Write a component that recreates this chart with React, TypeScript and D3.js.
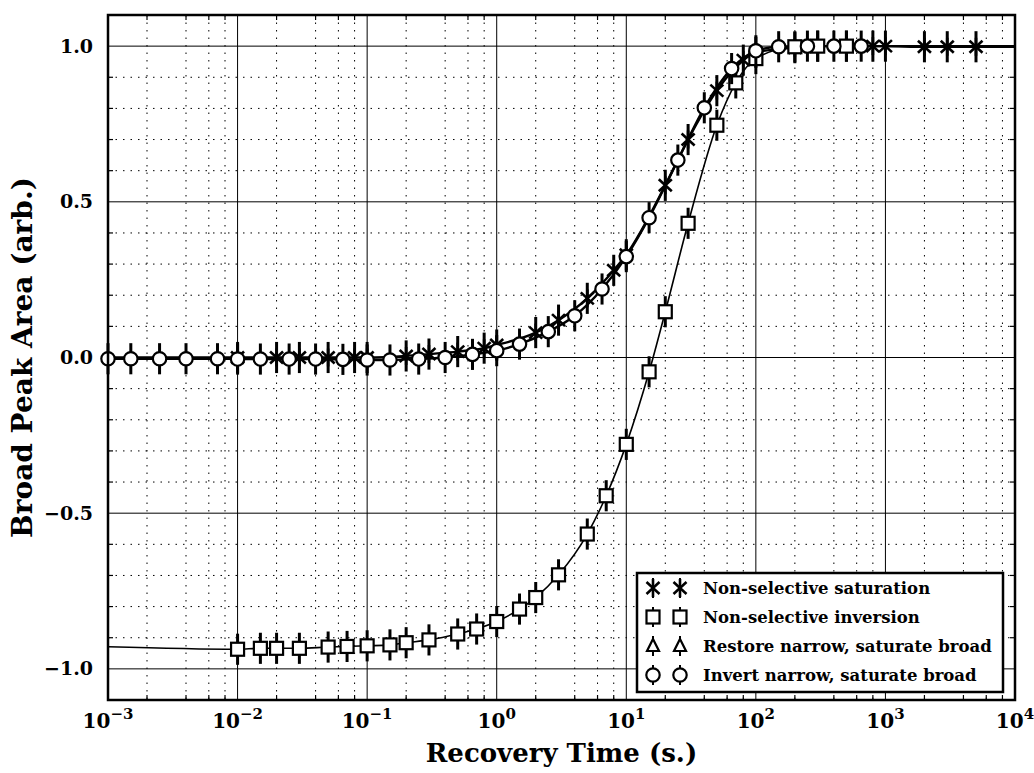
import React from 'react';
import * as d3 from 'd3';

const W = 1034;
const H = 773;
const PL = 108, PR = 1015, PT = 15, PB = 700;

// Non-selective saturation (asterisks)
const satX = [0.01, 0.02, 0.03, 0.05, 0.08, 0.1, 0.2, 0.3, 0.5, 0.8, 1, 2, 3, 5, 8, 10, 20, 30, 50, 80, 100, 200, 300, 500, 800, 1000, 2000, 3000, 5000];
const satY = [0.0, 0.0, 0.0, 0.0, 0.0, 0.0, 0.005, 0.011, 0.019, 0.03, 0.04, 0.08, 0.12, 0.19, 0.28, 0.33, 0.553, 0.7, 0.857, 0.955, 0.98, 0.995, 1.0, 1.0, 1.0, 1.0, 0.998, 0.998, 0.998];

// Non-selective inversion (squares)
const invX = [0.01, 0.015, 0.02, 0.03, 0.05, 0.07, 0.1, 0.15, 0.2, 0.3, 0.5, 0.7, 1, 1.5, 2, 3, 5, 7, 10, 15, 20, 30, 50, 70, 100, 200, 300, 500];
const invY = [-0.937, -0.934, -0.934, -0.934, -0.93, -0.928, -0.926, -0.923, -0.916, -0.907, -0.888, -0.872, -0.848, -0.808, -0.771, -0.698, -0.567, -0.444, -0.279, -0.046, 0.147, 0.431, 0.746, 0.882, 0.96, 0.998, 1.0, 1.0];
const invFitLeft = -0.929;

// Restore narrow, saturate broad (triangles) - hidden under the other markers
const restX: number[] = [];
const restY: number[] = [];

// Invert narrow, saturate broad (circles)
const circX = [0.001, 0.0015, 0.0025, 0.004, 0.007, 0.01, 0.015, 0.025, 0.04, 0.065, 0.1, 0.15, 0.25, 0.4, 0.65, 1, 1.5, 2.5, 4, 6.5, 10, 15, 25, 40, 65, 100, 150, 250, 400, 650];
const circY = [-0.004, -0.004, -0.004, -0.004, -0.004, -0.005, -0.005, -0.005, -0.005, -0.006, -0.008, -0.008, -0.005, 0.0, 0.01, 0.022, 0.043, 0.083, 0.134, 0.22, 0.324, 0.449, 0.634, 0.802, 0.928, 0.985, 0.998, 1.0, 1.0, 1.0];

const errHalf = 0.05;

const xExps = [-3, -2, -1, 0, 1, 2, 3, 4];
const yTicks = [-1, -0.5, 0, 0.5, 1];
const yTickLabels = ['\u22121.0', '\u22120.5', '0.0', '0.5', '1.0'];
const legendLabels = ['Non-selective saturation', 'Non-selective inversion', 'Restore narrow, saturate broad', 'Invert narrow, saturate broad'];

const FONT = '"DejaVu Serif", serif';

const x = d3.scaleLog().domain([1e-3, 1e4]).range([PL, PR]);
const y = d3.scaleLinear().domain([-1.1, 1.1]).range([PB, PT]);

function Asterisk({ cx, cy }: { cx: number; cy: number }) {
  const h = 9, w = 6.5, dh = 6;
  return (
    <g stroke="#000" strokeWidth={2.6} strokeLinecap="butt">
      <line x1={cx} y1={cy - h} x2={cx} y2={cy + h} />
      <line x1={cx - w} y1={cy - dh} x2={cx + w} y2={cy + dh} />
      <line x1={cx - w} y1={cy + dh} x2={cx + w} y2={cy - dh} />
    </g>
  );
}
function Square({ cx, cy }: { cx: number; cy: number }) {
  return <rect x={cx - 6.5} y={cy - 6.5} width={13} height={13} fill="#fff" stroke="#000" strokeWidth={2.2} />;
}
function Circle({ cx, cy }: { cx: number; cy: number }) {
  return <circle cx={cx} cy={cy} r={6.7} fill="#fff" stroke="#000" strokeWidth={2.2} />;
}
function Triangle({ cx, cy }: { cx: number; cy: number }) {
  return <path d={`M${cx},${cy - 7}L${cx + 6},${cy + 5}L${cx - 6},${cy + 5}Z`} fill="#fff" stroke="#000" strokeWidth={2.2} />;
}

function ErrBar({ cx, v }: { cx: number; v: number }) {
  return <line x1={cx} x2={cx} y1={y(v + errHalf)} y2={y(v - errHalf)} stroke="#000" strokeWidth={3} />;
}

export default function App() {
  const minorX: number[] = [];
  for (let e = -3; e < 4; e++) for (const m of [2, 4, 6, 8]) minorX.push(m * Math.pow(10, e));
  const minorY: number[] = [];
  for (let i = -10; i <= 10; i++) if (i % 5 !== 0) minorY.push(i / 10);

  const lineGen = d3.line<[number, number]>().x(d => x(d[0])).y(d => y(d[1])).curve(d3.curveMonotoneX);
  const satPts: [number, number][] = [[1e-3, satY[0]], ...satX.map((v, i) => [v, satY[i]] as [number, number]), [1e4, satY[satY.length - 1]]];
  const invPts: [number, number][] = [[1e-3, invFitLeft], ...invX.map((v, i) => [v, invY[i]] as [number, number]), [1e4, invY[invY.length - 1]]];
  const circPts: [number, number][] = [...circX.map((v, i) => [v, circY[i]] as [number, number]), [1e4, circY[circY.length - 1]]];

  const legendX = 637, legendY = 573, legendW = 366, legendH = 119;
  const rowY = [588, 617, 646, 675];
  const markers = [Asterisk, Square, Triangle, Circle];

  return (
    <svg width={W} height={H} style={{ position: 'absolute', left: 0, top: 0, background: '#fff' }} fontFamily={FONT}>
      <rect x={0} y={0} width={W} height={H} fill="#fff" />
      {/* minor grid */}
      <g stroke="#000" strokeWidth={1} strokeDasharray="1.5,6">
        {minorX.map((v, i) => <line key={'mx' + i} x1={x(v)} x2={x(v)} y1={PT} y2={PB} />)}
        {minorY.map((v, i) => <line key={'my' + i} x1={PL} x2={PR} y1={y(v)} y2={y(v)} />)}
      </g>
      {/* major grid */}
      <g stroke="#000" strokeWidth={1}>
        {xExps.map(e => <line key={'gx' + e} x1={x(Math.pow(10, e))} x2={x(Math.pow(10, e))} y1={PT} y2={PB} />)}
        {yTicks.map(v => <line key={'gy' + v} x1={PL} x2={PR} y1={y(v)} y2={y(v)} />)}
      </g>
      {/* ticks */}
      <g stroke="#000" strokeWidth={1.2}>
        {minorX.map((v, i) => (
          <g key={'tx' + i}>
            <line x1={x(v)} x2={x(v)} y1={PB} y2={PB - 5} />
            <line x1={x(v)} x2={x(v)} y1={PT} y2={PT + 5} />
          </g>
        ))}
        {minorY.map((v, i) => (
          <g key={'ty' + i}>
            <line x1={PL} x2={PL + 5} y1={y(v)} y2={y(v)} />
            <line x1={PR} x2={PR - 5} y1={y(v)} y2={y(v)} />
          </g>
        ))}
      </g>
      {/* fitted lines */}
      <path d={lineGen(invPts) || ''} fill="none" stroke="#000" strokeWidth={1.6} />
      <path d={lineGen(satPts) || ''} fill="none" stroke="#000" strokeWidth={2.4} />
      <path d={lineGen(circPts) || ''} fill="none" stroke="#000" strokeWidth={2.4} />
      {/* saturation */}
      {satX.map((v, i) => (
        <g key={'s' + i}>
          <ErrBar cx={x(v)} v={satY[i]} />
          <Asterisk cx={x(v)} cy={y(satY[i])} />
        </g>
      ))}
      {/* inversion */}
      {invX.map((v, i) => (
        <g key={'q' + i}>
          <ErrBar cx={x(v)} v={invY[i]} />
          <Square cx={x(v)} cy={y(invY[i])} />
        </g>
      ))}
      {restX.map((v, i) => (
        <g key={'r' + i}>
          <ErrBar cx={x(v)} v={restY[i]} />
          <Triangle cx={x(v)} cy={y(restY[i])} />
        </g>
      ))}
      {/* circles */}
      {circX.map((v, i) => (
        <g key={'c' + i}>
          <ErrBar cx={x(v)} v={circY[i]} />
          <Circle cx={x(v)} cy={y(circY[i])} />
        </g>
      ))}
      {/* frame */}
      <rect x={PL} y={PT} width={PR - PL} height={PB - PT} fill="none" stroke="#000" strokeWidth={2.5} />
      {/* legend */}
      <rect x={legendX} y={legendY} width={legendW} height={legendH} fill="#fff" stroke="#000" strokeWidth={2.5} />
      {legendLabels.map((lab, i) => {
        const M = markers[i];
        return (
          <g key={'lg' + i}>
            {[653, 680].map(mx => (
              <g key={mx}>
                <line x1={mx} x2={mx} y1={rowY[i] - 10} y2={rowY[i] + 10} stroke="#000" strokeWidth={2} />
                <M cx={mx} cy={rowY[i]} />
              </g>
            ))}
            <text x={703} y={rowY[i] + 6} fontSize={16.5} fontWeight="bold">{lab}</text>
          </g>
        );
      })}
      {/* y tick labels */}
      {yTicks.map((v, i) => (
        <text key={'yl' + i} x={93} y={y(v) + 6.5} textAnchor="end" fontSize={19} fontWeight="bold">{yTickLabels[i]}</text>
      ))}
      {/* x tick labels */}
      {xExps.map(e => (
        <text key={'xl' + e} x={x(Math.pow(10, e))} y={728} textAnchor="middle" fontSize={20} fontWeight="bold">
          10<tspan dy={-9} fontSize={15}>{e < 0 ? '\u2212' + Math.abs(e) : String(e)}</tspan>
        </text>
      ))}
      {/* axis titles */}
      <text x={(PL + PR) / 2} y={762} textAnchor="middle" fontSize={26} fontWeight="bold">Recovery Time (s.)</text>
      <text transform={`translate(32,${(PT + PB) / 2}) rotate(-90)`} textAnchor="middle" fontSize={28} fontWeight="bold">Broad Peak Area (arb.)</text>
    </svg>
  );
}
